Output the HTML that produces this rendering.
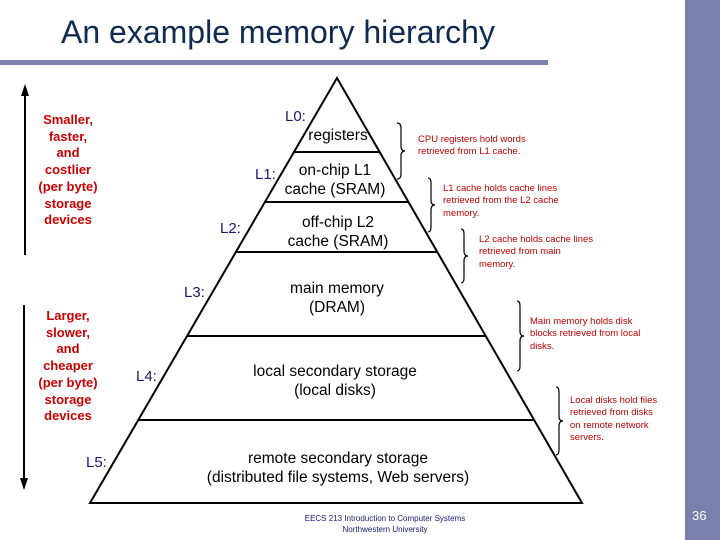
<!DOCTYPE html>
<html><head><style>
body{margin:0;width:720px;height:540px;background:#fff;position:relative;overflow:hidden;font-family:"Liberation Sans",Arial,sans-serif}
.a{position:absolute;white-space:nowrap}
.red{color:#cc0000;font-weight:bold;font-size:13px;text-align:center;line-height:16.7px}
.lv{color:#1a1a70;font-size:15px}
.t{color:#000;font-size:15.5px;text-align:center;line-height:19px}
.n{color:#c00000;font-size:9.5px;line-height:12.3px}
</style></head><body>
<div class="a" style="left:685px;top:0;width:35px;height:540px;background:#7b7fab"></div>
<div class="a" style="left:0;top:60px;width:548px;height:5px;background:#7b7fab"></div>
<div class="a" style="left:61px;top:14px;font-size:32px;color:#0f2b4f">An example memory hierarchy</div>
<svg class="a" style="left:0;top:0" width="720" height="540">
<g stroke="#000" stroke-width="2" fill="none">
<polygon points="337,78 90,503 582,503"/>
<line x1="293" y1="152" x2="380" y2="152"/>
<line x1="264" y1="202" x2="409" y2="202"/>
<line x1="235" y1="252" x2="438" y2="252"/>
<line x1="187" y1="336" x2="486" y2="336"/>
<line x1="139" y1="420" x2="534" y2="420"/>
<line x1="25" y1="95" x2="25" y2="255"/>
<line x1="24" y1="305" x2="24" y2="478"/>
</g>
<polygon points="25,84 21,96 29,96" fill="#000"/>
<polygon points="24,490 20,478 28,478" fill="#000"/>
<g stroke="#000" stroke-width="1.2" fill="none">
<path d="M397,123 q4,0 4,5 v18 q0,5 4,5 q-4,0 -4,5 v18 q0,5 -4,5"/>
<path d="M428,178 q3,0 3,5 v17 q0,5 4,5 q-4,0 -4,5 v17 q0,5 -3,5"/>
<path d="M461,229 q3,0 3,5 v17 q0,5 4,5 q-4,0 -4,5 v17 q0,5 -3,5"/>
<path d="M517,301 q3,0 3,5 v25 q0,5 4,5 q-4,0 -4,5 v25 q0,5 -3,5"/>
<path d="M556,387 q3,0 3,5 v24 q0,5 4,5 q-4,0 -4,5 v24 q0,5 -3,5"/>
</g>
</svg>
<div class="a red" style="left:30px;top:112px;width:76px">Smaller,<br>faster,<br>and<br>costlier<br>(per byte)<br>storage<br>devices</div>
<div class="a red" style="left:30px;top:308px;width:76px">Larger,<br>slower,<br>and<br>cheaper<br>(per byte)<br>storage<br>devices</div>
<div class="a lv" style="left:285px;top:108px">L0:</div>
<div class="a lv" style="left:255px;top:166px">L1:</div>
<div class="a lv" style="left:220px;top:220px">L2:</div>
<div class="a lv" style="left:184px;top:284px">L3:</div>
<div class="a lv" style="left:136px;top:368px">L4:</div>
<div class="a lv" style="left:86px;top:454px">L5:</div>
<div class="a t" style="left:290px;top:126px;width:96px">registers</div>
<div class="a t" style="left:270px;top:161px;width:130px">on-chip L1<br>cache (SRAM)</div>
<div class="a t" style="left:270px;top:213px;width:136px">off-chip L2<br>cache (SRAM)</div>
<div class="a t" style="left:260px;top:279px;width:154px">main memory<br>(DRAM)</div>
<div class="a t" style="left:220px;top:362px;width:230px">local secondary storage<br>(local disks)</div>
<div class="a t" style="left:176px;top:449px;width:324px">remote secondary storage<br>(distributed file systems, Web servers)</div>
<div class="a n" style="left:418px;top:134px">CPU registers hold words<br>retrieved from L1 cache.</div>
<div class="a n" style="left:443px;top:183px">L1 cache holds cache lines<br>retrieved from the L2 cache<br>memory.</div>
<div class="a n" style="left:479px;top:234px">L2 cache holds cache lines<br>retrieved from main<br>memory.</div>
<div class="a n" style="left:530px;top:316px">Main memory holds disk<br>blocks retrieved from local<br>disks.</div>
<div class="a n" style="left:570px;top:395px">Local disks hold files<br>retrieved from disks<br>on remote network<br>servers.</div>
<div class="a" style="left:280px;top:513px;width:210px;text-align:center;font-size:8px;line-height:11px;color:#1a1a70">EECS 213 Introduction to Computer Systems<br>Northwestern University</div>
<div class="a" style="left:692px;top:508px;font-size:13px;color:#fff">36</div>
</body></html>
